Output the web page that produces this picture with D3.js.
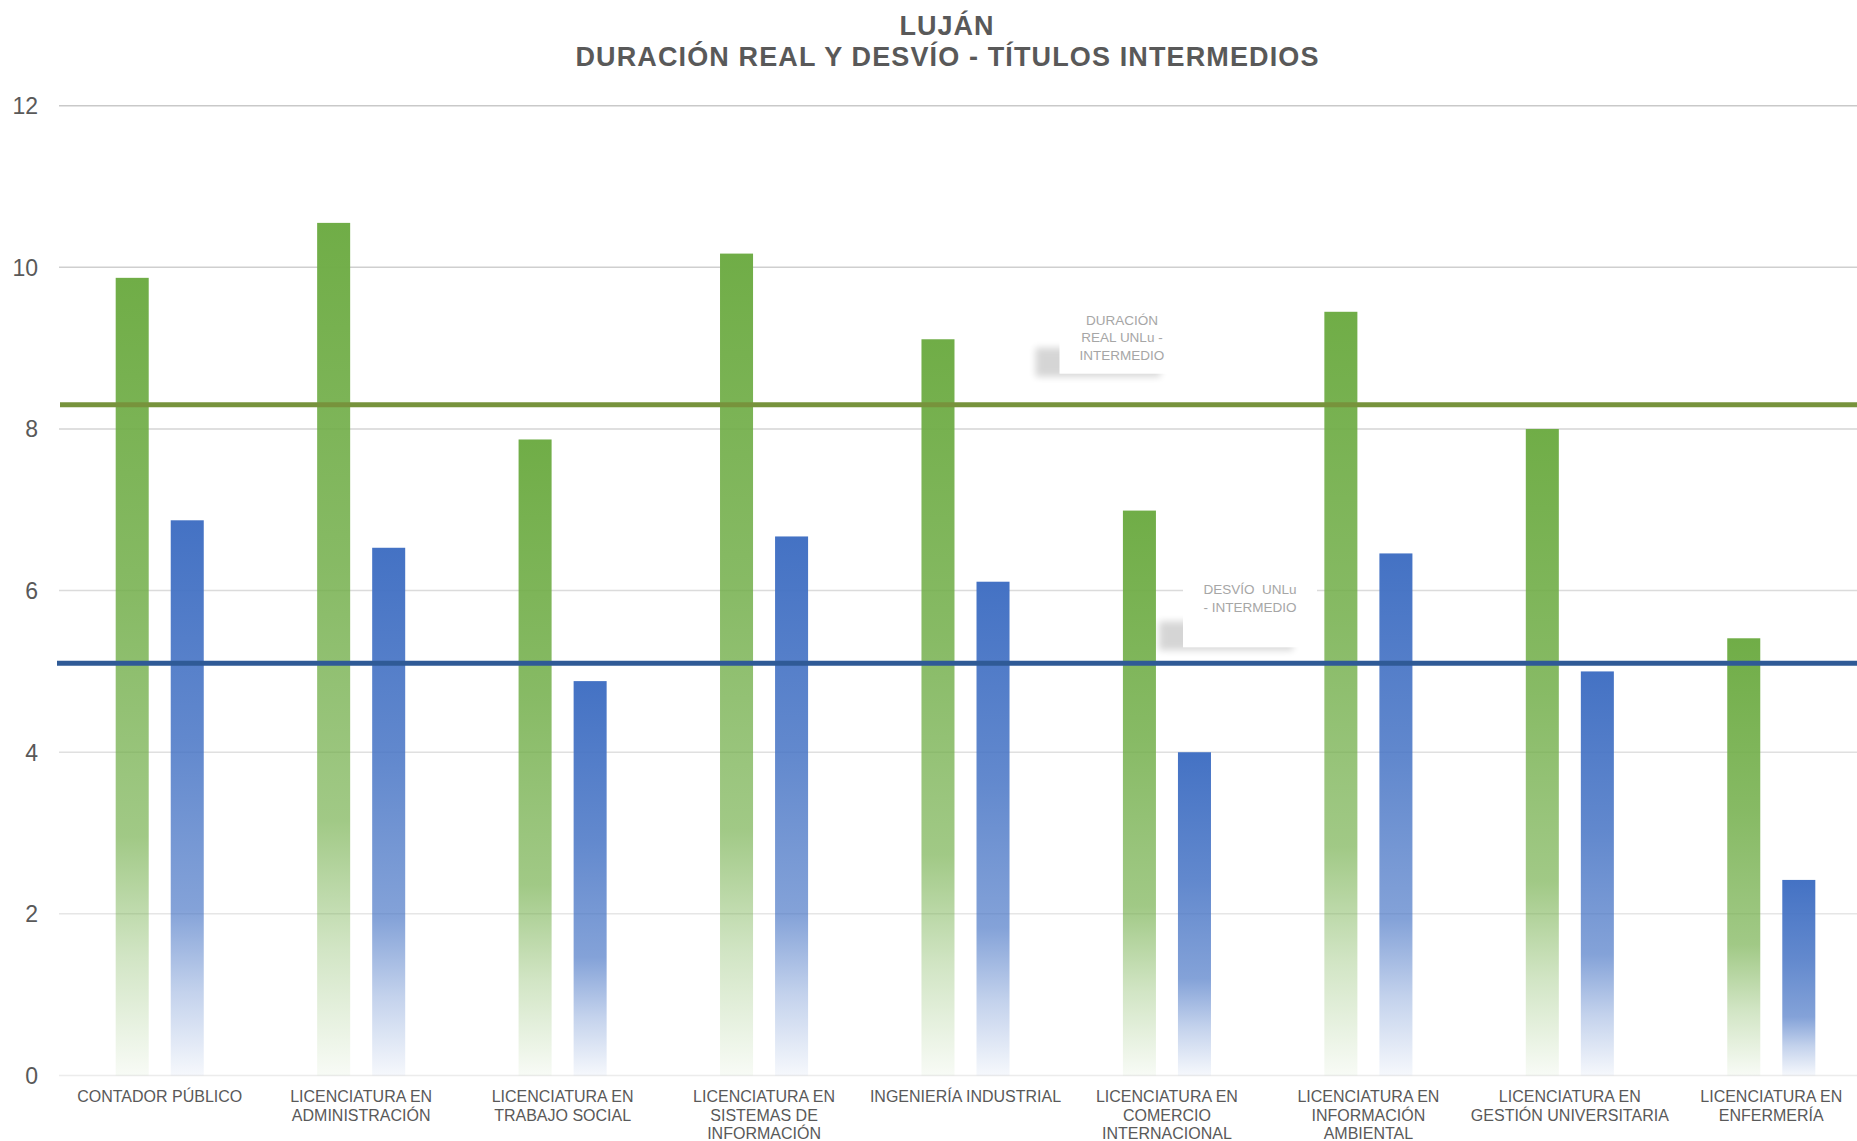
<!DOCTYPE html>
<html>
<head>
<meta charset="utf-8">
<script src="https://cdn.jsdelivr.net/npm/d3@7"></script>
<style>
  html, body { margin: 0; padding: 0; background: #fff; }
  svg { display: block; font-family: "Liberation Sans", Arial, sans-serif; }
</style>
</head>
<body>
<svg id="chart"></svg>
<script>
// Data
const categories = [
    "CONTADOR PÚBLICO",
    "LICENCIATURA EN\nADMINISTRACIÓN",
    "LICENCIATURA EN\nTRABAJO SOCIAL",
    "LICENCIATURA EN\nSISTEMAS DE\nINFORMACIÓN",
    "INGENIERÍA INDUSTRIAL",
    "LICENCIATURA EN\nCOMERCIO\nINTERNACIONAL",
    "LICENCIATURA EN\nINFORMACIÓN\nAMBIENTAL",
    "LICENCIATURA EN\nGESTIÓN UNIVERSITARIA",
    "LICENCIATURA EN\nENFERMERÍA"
];
const duracionReal = [9.87, 10.55, 7.87, 10.17, 9.11, 6.99, 9.45, 8.0, 5.41];
const desvio = [6.87, 6.53, 4.88, 6.67, 6.11, 4.0, 6.46, 5.0, 2.42];
const yTicks = [0, 2, 4, 6, 8, 10, 12];
const promedioDuracion = 8.3;
const promedioDesvio = 5.1;
const refLabels = ["DURACIÓN\nREAL UNLu -\nINTERMEDIO", "DESVÍO  UNLu\n- INTERMEDIO"];

const width = 1857, height = 1141;
const svg = d3.select('#chart').attr('width', width).attr('height', height);
const defs = svg.append('defs');

// Scales
const x0 = d3.scaleBand().domain(categories).range([59, 1872]).paddingInner(0).paddingOuter(0);
const series = ['real', 'desvio'];
const x1 = d3.scaleBand().domain(series).range([0, x0.bandwidth()]).paddingInner(0.4).paddingOuter(1.03);
const y = d3.scaleLinear().domain([0, 12]).range([1075.5, 105.7]);

const colors = { real: '#70ad47', desvio: '#4472c4' };

// Gradient fills, solid at top and fading out at the base
const gradStops = [[0, 1], [0.4, 0.84], [0.7, 0.66], [0.85, 0.32], [1, 0.05]];
series.forEach(s => {
    const g = defs.append('linearGradient')
        .attr('id', 'grad-' + s)
        .attr('x1', 0).attr('y1', 0).attr('x2', 0).attr('y2', 1);
    gradStops.forEach(([o, a]) => {
        g.append('stop').attr('offset', o).attr('stop-color', colors[s]).attr('stop-opacity', a);
    });
});

defs.append('filter').attr('id', 'blur').attr('x', '-20%').attr('y', '-200%').attr('width', '140%').attr('height', '500%')
    .append('feGaussianBlur').attr('stdDeviation', 1.6);
defs.append('filter').attr('id', 'blur2').attr('x', '-30%').attr('y', '-60%').attr('width', '160%').attr('height', '220%')
    .append('feGaussianBlur').attr('stdDeviation', 3.5);

// Title
const title = svg.append('g').attr('fill', '#595959').attr('font-weight', 'bold').attr('text-anchor', 'middle');
title.append('text').attr('x', 947).attr('y', 34.5).attr('font-size', 27)
    .attr('letter-spacing', 1).text('LUJÁN');
title.append('text').attr('x', 947).attr('y', 66).attr('font-size', 27)
    .attr('textLength', 743).attr('lengthAdjust', 'spacing')
    .text('DURACIÓN REAL Y DESVÍO - TÍTULOS INTERMEDIOS');

// Gridlines
const gridColor = d3.scaleLinear().domain([0, 12]).range(['#ececec', '#c9c9c9']);
svg.append('g').attr('class', 'grid')
    .selectAll('line')
    .data(yTicks)
    .enter()
    .append('line')
    .attr('x1', 59).attr('x2', width)
    .attr('y1', d => y(d)).attr('y2', d => y(d))
    .attr('stroke', d => gridColor(d))
    .attr('stroke-width', 1.5);

// Y axis labels
svg.append('g')
    .selectAll('text')
    .data(yTicks)
    .enter()
    .append('text')
    .attr('x', 38).attr('y', d => y(d))
    .attr('dy', '0.36em')
    .attr('text-anchor', 'end')
    .attr('font-size', 23)
    .attr('fill', '#595959')
    .text(d => d);

// Annotation boxes for the reference lines
function annotation(cx, bottom, w, h, firstBaseline, lines) {
    const g = svg.append('g');
    g.append('rect')
        .attr('x', cx - w / 2 - 24).attr('y', bottom - 26)
        .attr('width', w).attr('height', 29)
        .attr('fill', '#000').attr('opacity', 0.16)
        .attr('filter', 'url(#blur2)');
    g.append('rect')
        .attr('x', cx - w / 2).attr('y', bottom - h)
        .attr('width', w).attr('height', h)
        .attr('fill', '#fff');
    const t = g.append('text')
        .attr('text-anchor', 'middle')
        .attr('font-size', 13.5)
        .attr('fill', '#a6a6a6');
    lines.forEach((ln, i) => {
        t.append('tspan').attr('x', cx)
            .attr('y', firstBaseline + i * 17.5)
            .attr('xml:space', 'preserve')
            .text(ln);
    });
}
annotation(1122, y(promedioDuracion) - 31, 125, 75, 324.5, refLabels[0].split('\n'));
annotation(1250, y(promedioDesvio) - 16, 134, 74, 594, refLabels[1].split('\n'));

// Bars
const rows = categories.map((c, i) => ({ cat: c, real: duracionReal[i], desvio: desvio[i] }));
const groups = svg.append('g').attr('class', 'bars')
    .selectAll('g')
    .data(rows)
    .enter()
    .append('g')
    .attr('transform', d => `translate(${x0(d.cat)},0)`);

groups.selectAll('rect')
    .data(d => series.map(s => ({ key: s, value: d[s] })))
    .enter()
    .append('rect')
    .attr('x', d => x1(d.key))
    .attr('width', x1.bandwidth())
    .attr('y', d => y(d.value))
    .attr('height', d => y(0) - y(d.value))
    .attr('fill', d => `url(#grad-${d.key})`);

// Reference lines with a soft shadow
const refLines = [
    { value: promedioDuracion, color: '#77933c', x: 60 },
    { value: promedioDesvio, color: '#2f5a96', x: 57 }
];
const refG = svg.append('g').attr('class', 'ref-lines');
refLines.forEach(r => {
    refG.append('line')
        .attr('x1', r.x - 4).attr('x2', width + 10)
        .attr('y1', y(r.value) + 5).attr('y2', y(r.value) + 5)
        .attr('stroke', '#000').attr('stroke-opacity', 0.2)
        .attr('stroke-width', 5)
        .attr('filter', 'url(#blur)');
    refG.append('line')
        .attr('x1', r.x).attr('x2', width + 10)
        .attr('y1', y(r.value)).attr('y2', y(r.value))
        .attr('stroke', r.color)
        .attr('stroke-width', 5);
});

// X axis labels
const xLabels = svg.append('g').attr('class', 'x-labels')
    .attr('font-size', 16)
    .attr('fill', '#595959')
    .attr('text-anchor', 'middle');
categories.forEach(c => {
    const t = xLabels.append('text');
    const cx = x0(c) + x0.bandwidth() / 2;
    c.split('\n').forEach((ln, i) => {
        t.append('tspan').attr('x', cx).attr('y', 1102 + i * 18.5).text(ln);
    });
});
</script>
</body>
</html>
